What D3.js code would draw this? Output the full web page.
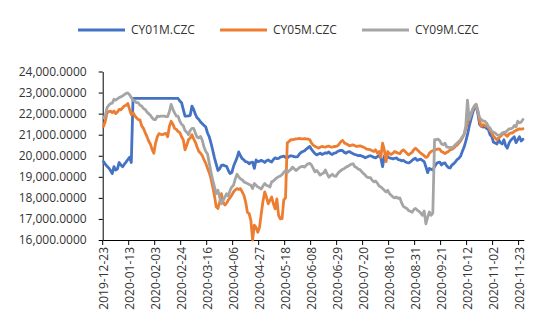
<!DOCTYPE html>
<html>
<head>
<meta charset="utf-8">
<script src="https://cdn.jsdelivr.net/npm/d3@7"></script>
<style>
  html, body { margin: 0; padding: 0; background: #fff; }
  svg { display: block; }
  text { font-family: "Open Sans", "Liberation Sans", sans-serif; }
</style>
</head>
<body>
<svg id="chart" width="550" height="329"></svg>
<script>
// Daily (weekday) settlement series, starting 2019-12-23
const seriesNames = ["CY01M.CZC", "CY05M.CZC", "CY09M.CZC"];
const seriesColors = ["#4472C4", "#ED7D31", "#A5A5A5"];

const cy01 = [
  19720,19600,19500,19420,19300,19150,19480,19320,19380,19680,
  19560,19480,19600,19700,19820,19930,19680,22720,22720,22720,
  22720,22720,22720,22720,22720,22720,22720,22720,22720,22720,
  22720,22720,22720,22720,22720,22720,22720,22720,22720,22720,
  22720,22720,22720,22720,22600,22520,22200,21880,21880,21890,
  21920,22360,22200,21960,21800,21720,21600,21520,21440,21360,
  21080,20900,20600,20260,19900,19600,19300,19380,19540,19560,
  19520,19500,19300,19160,19200,19500,19700,19900,20180,20000,
  19860,19800,19720,19700,19620,19680,19700,19400,19800,19720,
  19740,19780,19740,19680,19760,19800,19740,19700,19820,19900,
  19860,19880,19940,19960,19980,19920,19900,19960,20000,19980,
  19960,19940,19960,20080,20160,20200,20240,20320,20380,20440,
  20300,20200,20100,20040,20080,20120,20060,20100,20140,20120,
  20180,20100,20060,20120,20140,20200,20240,20260,20240,20160,
  20120,20180,20200,20140,20100,20060,20040,20000,20020,19980,
  19960,19900,19940,19980,20000,19960,19920,19900,19960,20000,
  19900,19480,19980,19920,19960,19900,19880,19850,19880,19900,
  19820,19800,19760,19780,19720,19680,19660,19700,19780,19840,
  19880,19780,19820,19840,19780,19720,19480,19200,19400,19360,
  19320,19480,19620,19680,19700,19560,19640,19660,19520,19440,
  19420,19560,19620,19700,19820,19880,19980,20200,20400,20680,
  21000,21400,21720,22040,22300,22360,22000,21480,21400,21360,
  21380,21300,21260,21000,20920,20640,20600,20560,20760,20620,
  20560,20760,20480,20360,20600,20740,20820,20900,20620,20760,
  20900,20700,20780
];

const cy05 = [
  21400,21640,22040,22100,22120,22050,22120,22000,22080,22200,
  22180,22280,22360,22400,22480,22200,21960,22040,21900,21800,
  21720,21700,21420,21300,21100,20920,20700,20560,20300,20120,
  20600,20900,21050,21020,21000,21040,21060,20900,21400,21640,
  21500,21300,21250,21150,21100,20900,20760,20280,20500,20760,
  20840,21000,20800,20640,20400,20200,20120,20000,19800,19640,
  19400,19200,18900,18520,18100,17580,17500,17800,18200,17800,
  17660,17750,17900,18000,18140,18280,18380,18440,18400,18440,
  18280,18120,17800,17320,17250,16930,16000,16700,16600,16370,
  16600,17250,17850,18280,18040,17720,17880,18040,17720,17480,
  17950,17170,17000,17020,17900,18000,20600,20680,20760,20760,
  20780,20800,20800,20820,20800,20800,20810,20800,20790,20760,
  20600,20500,20440,20410,20360,20400,20440,20420,20410,20440,
  20460,20420,20410,20440,20440,20470,20560,20680,20730,20600,
  20570,20520,20470,20500,20520,20480,20440,20460,20470,20440,
  20410,20360,20310,20300,20280,20240,20200,20280,20120,20200,
  19930,20600,20280,19720,20200,20100,20060,20120,20200,20160,
  20120,20100,20220,20280,20200,20120,20040,20100,20160,20280,
  20360,20280,20200,20120,20060,20000,19920,19960,20120,20200,
  20240,20260,20300,20320,20310,20200,20160,20100,20160,20200,
  20280,20300,20360,20440,20500,20600,20700,20840,21000,21280,
  21560,21800,21960,22200,22360,22440,22120,21640,21400,21480,
  21440,21400,21360,21200,21100,20920,20840,20760,20840,20920,
  21000,21080,21000,20920,21040,21080,21080,21160,21200,21240,
  21280,21260,21280
];

const cy09 = [
  21800,21900,22280,22400,22480,22500,22680,22640,22700,22760,
  22800,22840,22900,22960,22980,22900,22760,22640,22600,22520,
  22520,22400,22360,22240,22200,22080,22000,21920,21800,21720,
  21720,21880,21860,21880,21880,21880,21860,21860,22100,22440,
  22200,22040,21880,21880,21640,21500,21420,21200,21120,21000,
  21200,21300,21300,21080,20880,20840,20920,20720,20400,20200,
  20080,19640,19220,18840,18520,18200,18360,18040,17720,17880,
  18040,18200,18080,18360,18520,18600,18900,19120,19000,18900,
  18860,18760,18720,18680,18640,18600,18440,18680,18600,18520,
  18480,18420,18560,18680,18600,18560,18520,18760,18800,18880,
  18960,19000,19040,19100,19220,19300,19200,19280,19340,19460,
  19380,19300,19360,19440,19480,19500,19460,19560,19620,19640,
  19560,19400,19240,19300,19200,19080,19140,19180,19320,19140,
  18980,19060,19120,19040,19020,19140,19240,19300,19360,19400,
  19460,19500,19560,19600,19620,19480,19440,19360,19340,19240,
  19160,19080,18980,18960,18960,18840,18760,18800,18700,18560,
  18520,18440,18360,18280,18360,18200,18120,18040,18000,18040,
  17980,18000,17760,17600,17540,17500,17400,17360,17320,17440,
  17500,17420,17360,17280,17170,17380,16770,17080,17330,17170,
  17280,20760,20760,20790,20720,20560,20520,20600,20420,20400,
  20400,20360,20440,20520,20600,20680,20760,20900,21000,21400,
  22640,21720,21960,22200,22360,22440,22120,21800,21720,21640,
  21640,21560,21400,21320,21160,21120,21080,21000,20960,21000,
  21080,21120,21120,21200,21280,21280,21320,21440,21360,21640,
  21560,21600,21720
];

// Category labels shown on the x axis (every 15th weekday)
const tickLabels = [
  "2019-12-23","2020-01-13","2020-02-03","2020-02-24","2020-03-16","2020-04-06",
  "2020-04-27","2020-05-18","2020-06-08","2020-06-29","2020-07-20","2020-08-10",
  "2020-08-31","2020-09-21","2020-10-12","2020-11-02","2020-11-23"
];
const yTicks = [16000,17000,18000,19000,20000,21000,22000,23000,24000];

// Weekday categories
const fmt = d3.timeFormat("%Y-%m-%d");
const dates = d3.timeDay.range(new Date(2019, 11, 23), new Date(2020, 11, 31))
  .filter(d => d.getDay() !== 0 && d.getDay() !== 6)
  .map(fmt)
  .slice(0, cy01.length);

const series = [cy01, cy05, cy09];

const svg = d3.select("#chart");
svg.append("rect").attr("width", 550).attr("height", 329).attr("fill", "#fff");

const plot = { left: 102.7, right: 523.8, top: 71.5, bottom: 240 };

const x = d3.scaleBand().domain(dates).range([plot.left, plot.right]).padding(0);
const y = d3.scaleLinear().domain([16000, 24000]).range([plot.bottom, plot.top]);

// Y axis
const yAxis = svg.append("g")
  .attr("transform", `translate(${plot.left},0)`)
  .call(d3.axisLeft(y).tickValues(yTicks).tickFormat(d3.format(",.4f"))
    .tickSize(4).tickSizeOuter(0).tickPadding(12));
yAxis.selectAll("path, line").attr("stroke", "#000");
yAxis.selectAll("text").attr("fill", "#333").style("font-size", "12px");

// X axis: labels centred on categories, tick marks on category edges
const xAxis = svg.append("g")
  .attr("transform", `translate(0,${plot.bottom})`)
  .call(d3.axisBottom(x).tickValues(tickLabels).tickSize(0).tickSizeOuter(0));
xAxis.select(".domain").attr("stroke", "#000");
xAxis.selectAll("text")
  .attr("transform", "rotate(-90)")
  .attr("x", -7).attr("y", 0).attr("dy", "0.35em")
  .style("text-anchor", "end")
  .attr("fill", "#333").style("font-size", "12px");

svg.append("g").selectAll("line.edge")
  .data(tickLabels)
  .join("line")
  .attr("x1", d => x(d)).attr("x2", d => x(d))
  .attr("y1", plot.bottom).attr("y2", plot.bottom + 5)
  .attr("stroke", "#000");

// Series lines
const line = d3.line()
  .x((v, i) => x(dates[i]) + x.bandwidth() / 2)
  .y(v => y(v));

svg.append("g").selectAll("path.series")
  .data(series)
  .join("path")
  .attr("class", "series")
  .attr("d", d => line(d))
  .attr("fill", "none")
  .attr("stroke", (d, i) => seriesColors[i])
  .attr("stroke-width", 2.8)
  .attr("stroke-linejoin", "round")
  .attr("stroke-linecap", "round");

// Legend
const legendX = [78, 220, 362];
const legend = svg.append("g").selectAll("g")
  .data(seriesNames)
  .join("g")
  .attr("transform", (d, i) => `translate(${legendX[i]},30)`);
legend.append("line")
  .attr("x1", 0).attr("x2", 47).attr("y1", 0).attr("y2", 0)
  .attr("stroke", (d, i) => seriesColors[i]).attr("stroke-width", 3);
legend.append("text")
  .attr("x", 53).attr("y", 0).attr("dy", "0.35em")
  .attr("fill", "#333").style("font-size", "12px")
  .text(d => d);
</script>
</body>
</html>
